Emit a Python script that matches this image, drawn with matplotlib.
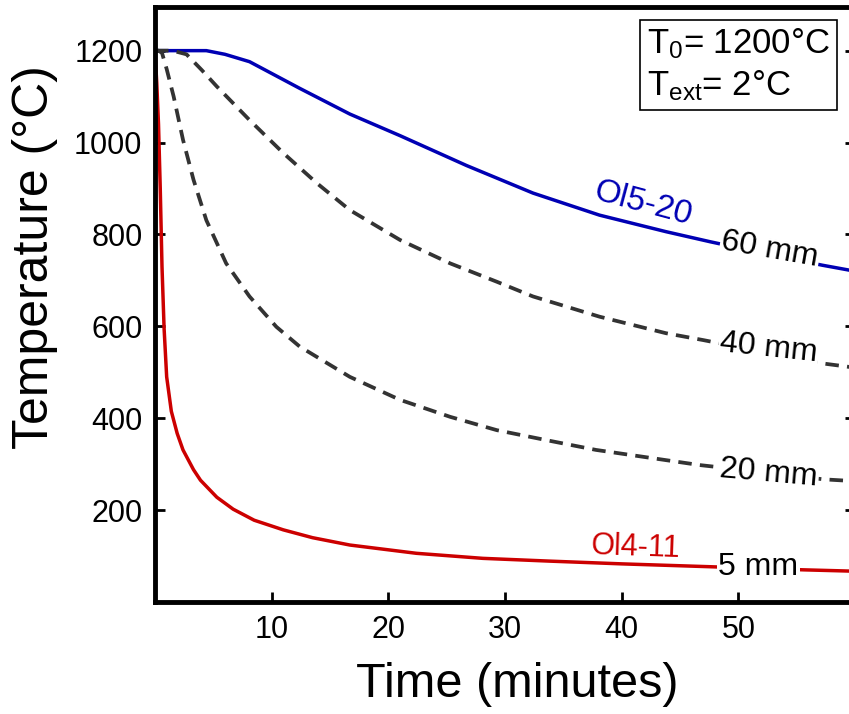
import numpy as np
import matplotlib
matplotlib.use('Agg')
import matplotlib.pyplot as plt

plt.rcParams['font.family'] = ['Liberation Sans', 'DejaVu Sans']
plt.rcParams['mathtext.fontset'] = 'custom'
plt.rcParams['mathtext.rm'] = 'Liberation Sans'
plt.rcParams['mathtext.it'] = 'Liberation Sans:italic'

# Cooling curves (time in minutes, temperature in degC)
t_60 = [0, 4.4, 6.0, 8.1, 12.4, 16.7, 21.0, 26.7, 32.4, 38.1, 43.8, 47.6, 52.0, 57.2, 60.0]
T_60 = [1200, 1200, 1192, 1176, 1118, 1062, 1015, 950, 890, 842, 806, 784, 760, 733, 720]

t_40 = [0, 1.5, 2.7, 4.0, 5.3, 8.1, 11.0, 13.9, 16.7, 21.0, 25.3, 29.3, 32.4, 38.1, 43.8, 47.0, 52.0, 57.3, 60.0]
T_40 = [1200, 1200, 1192, 1158, 1122, 1049, 977, 911, 853, 788, 737, 697, 665, 621, 585, 570, 545, 519, 510]

t_20 = [0, 0.3, 0.6, 1.0, 1.6, 2.4, 3.3, 4.4, 6.1, 8.1, 10.4, 12.4, 16.7, 21.0, 25.3, 29.3, 33.8, 37.8, 46.7, 52.0, 57.3, 60.0]
T_20 = [1200, 1200, 1195, 1160, 1100, 1006, 919, 831, 737, 665, 599, 556, 490, 440, 403, 374, 351, 331, 298, 283, 267, 263]

t_5 = [0, 0.15, 0.3, 0.45, 0.6, 0.78, 1.0, 1.4, 1.9, 2.4, 3.3, 3.9, 5.3, 6.7, 8.5, 11.0, 13.5, 16.7, 22.4, 28.1, 33.8, 40.0, 47.3, 55.6, 60.0]
T_5 = [1200, 1130, 1040, 900, 730, 595, 490, 415, 367, 331, 288, 265, 228, 202, 178, 157, 140, 124, 106, 95, 89, 83, 77, 70, 67]

x_ticks = [10, 20, 30, 40, 50]
y_ticks = [200, 400, 600, 800, 1000, 1200]

blue = '#0000b4'
red = '#cc0000'
grey = '#333333'

fig = plt.figure(figsize=(8.49, 7.14), dpi=100)
ax = fig.add_axes([155 / 849, 1 - 602 / 714, 700 / 849, 595 / 714])

ax.plot(t_60, T_60, color=blue, lw=2.5)
ax.plot(t_40, T_40, color=grey, lw=2.7, dashes=(3.6, 2.2))
ax.plot(t_20, T_20, color=grey, lw=2.7, dashes=(3.6, 2.2))
ax.plot(t_5, T_5, color=red, lw=2.5)

ax.set_xlim(0, 60)
ax.set_ylim(0, 1295)
ax.set_xticks(x_ticks)
ax.set_yticks(y_ticks)

for s in ax.spines.values():
    s.set_linewidth(3.5)
ax.tick_params(direction='in', length=7, width=2, labelsize=22, right=True)
ax.tick_params(axis='x', pad=9)
ax.tick_params(axis='y', pad=9)

ax.set_xlabel('Time (minutes)', fontsize=35)
ax.set_ylabel('Temperature (°C)', fontsize=36)
ax.xaxis.set_label_coords(0.517, -0.101)
ax.yaxis.set_label_coords(-0.138, 0.58)

# inline curve labels (white box hides the line behind them)
lab = dict(fontsize=23, ha='center', va='center',
           bbox=dict(facecolor='white', edgecolor='none', pad=1))
ax.text(52.7, 766, '60 mm', rotation=-10, **lab)
ax.text(52.6, 552, '40 mm', rotation=-6, **lab)
ax.text(52.6, 280, '20 mm', rotation=-5, **lab)
ax.text(51.7, 77, '5 mm', rotation=0, **lab)

ax.text(41.8, 866, 'Ol5-20', rotation=-15, fontsize=24, color=blue,
        ha='center', va='center')
ax.text(41.2, 119, 'Ol4-11', rotation=-2, fontsize=22, color=red,
        ha='center', va='center')

ax.text(0.703, 0.967, 'T$_0$= 1200°C\nT$_{\\mathrm{ext}}$= 2°C',
        transform=ax.transAxes, fontsize=25, ha='left', va='top',
        linespacing=1.25,
        bbox=dict(boxstyle='square,pad=0.2', facecolor='white',
                  edgecolor='black', linewidth=1.2))

fig.savefig('out.png', dpi=100)
